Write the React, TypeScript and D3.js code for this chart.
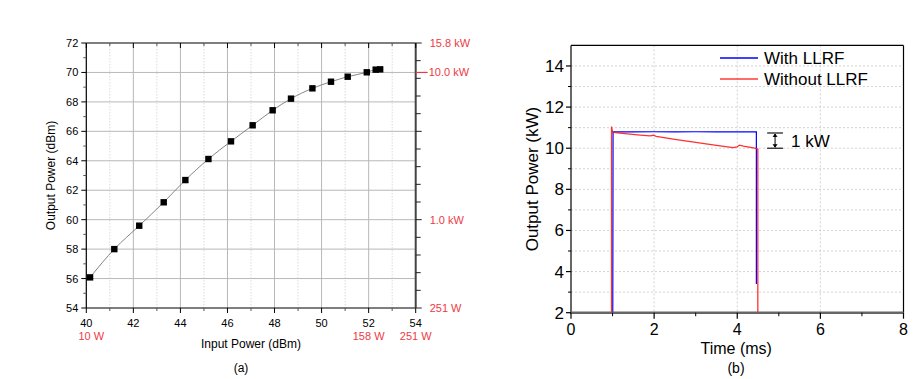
import React from "react";
import * as d3 from "d3";

// ---------- Chart (a) data ----------
const inputDbm = [40.16, 41.19, 42.25, 43.29, 44.21, 45.19, 46.15, 47.07, 47.92, 48.7, 49.61, 50.4, 51.11, 51.92, 52.3, 52.49];
const outputDbm = [56.08, 58.0, 59.59, 61.18, 62.69, 64.12, 65.32, 66.41, 67.43, 68.22, 68.92, 69.37, 69.71, 70.01, 70.19, 70.21];
const aXTicks = [40, 42, 44, 46, 48, 50, 52, 54];
const aYTicks = [54, 56, 58, 60, 62, 64, 66, 68, 70, 72];
const aRightLabelDbm = [72, 70, 60, 54];
const aRightLabelText = ["15.8 kW", "10.0 kW", "1.0 kW", "251 W"];
const aBottomLabelDbm = [40, 52, 54];
const aBottomLabelText = ["10 W", "158 W", "251 W"];

// ---------- Chart (b) data ----------
const withTime = [0.995, 1.005, 1.012, 1.5, 2.0, 2.5, 3.0, 3.5, 4.0, 4.3, 4.46, 4.46];
const withPower = [2.0, 2.0, 10.8, 10.79, 10.8, 10.79, 10.8, 10.79, 10.8, 10.79, 10.8, 3.4];
const withoutTime = [0.975, 0.975, 1.0, 1.06, 1.3, 1.6, 1.9, 1.98, 2.05, 2.5, 3.0, 3.5, 3.9, 4.0, 4.05, 4.15, 4.45, 4.495, 4.495];
const withoutPower = [2.0, 11.05, 10.8, 10.76, 10.71, 10.65, 10.6, 10.63, 10.58, 10.43, 10.28, 10.14, 10.03, 10.06, 10.15, 10.1, 9.99, 9.96, 2.0];
const bXTicks = [0, 2, 4, 6, 8];
const bYTicks = [2, 4, 6, 8, 10, 12, 14];
const legendLabels = ["With LLRF", "Without LLRF"];

const FONT = "'Liberation Sans', Arial, sans-serif";
const RED = "#ee3a44";

function ChartA() {
  const x = d3.scaleLinear().domain([40, 54]).range([86.3, 415.7]);
  const y = d3.scaleLinear().domain([54, 72]).range([308, 43]);
  const pts = inputDbm.map((v, i) => [v, outputDbm[i]] as [number, number]);
  const line = d3.line<[number, number]>().x(d => x(d[0])).y(d => y(d[1])).curve(d3.curveMonotoneX);
  const xMinor = d3.range(41, 54, 2);
  const yMinor = d3.range(55, 72, 2);
  const rightTicks = d3.range(0, 16).map(k => 54 + k * 1.2);
  const [x0, x1] = x.range();
  const [y0, y1] = y.range();
  return (
    <g fontFamily={FONT}>
      {xMinor.map(v => (
        <line key={"xm" + v} x1={x(v)} x2={x(v)} y1={y1} y2={y0} stroke="#d0d0d0" strokeDasharray="1.5,1.5" strokeWidth={0.8} />
      ))}
      {aXTicks.slice(1, -1).map(v => (
        <line key={"xg" + v} x1={x(v)} x2={x(v)} y1={y1} y2={y0} stroke="#b8b8b8" strokeWidth={1} />
      ))}
      {aYTicks.slice(1, -1).map(v => (
        <line key={"yg" + v} x1={x0} x2={x1} y1={y(v)} y2={y(v)} stroke="#b8b8b8" strokeWidth={1} />
      ))}
      <path d={line(pts) || ""} fill="none" stroke="#777" strokeWidth={0.9} />
      {pts.map((p, i) => (
        <rect key={i} x={x(p[0]) - 3.2} y={y(p[1]) - 3.2} width={6.4} height={6.4} fill="#000" />
      ))}
      <line x1={x0} x2={x1} y1={y1} y2={y1} stroke="#000" strokeWidth={1.2} />
      <line x1={x0} x2={x1} y1={y0} y2={y0} stroke="#000" strokeWidth={1.2} />
      <line x1={x0} x2={x0} y1={y1} y2={y0} stroke="#000" strokeWidth={1.2} />
      <line x1={x1} x2={x1} y1={y1} y2={y0} stroke="#444" strokeWidth={2} />
      {aXTicks.map(v => (
        <g key={"bx" + v}>
          <line x1={x(v)} x2={x(v)} y1={y0} y2={y0 + 5} stroke="#000" />
          <line x1={x(v)} x2={x(v)} y1={y1} y2={y1 + 5} stroke="#000" />
          <text x={x(v)} y={y0 + 19} fontSize={11} textAnchor="middle" fill="#000">{v}</text>
        </g>
      ))}
      {xMinor.map(v => (
        <g key={"bxm" + v}>
          <line x1={x(v)} x2={x(v)} y1={y0} y2={y0 + 3} stroke="#555" />
          <line x1={x(v)} x2={x(v)} y1={y1} y2={y1 + 3} stroke="#555" />
        </g>
      ))}
      {aBottomLabelDbm.map((v, i) => (
        <text key={"bl" + i} x={x(v) + (i === 0 ? 5 : 0)} y={y0 + 32} fontSize={11} textAnchor="middle" fill={RED}>{aBottomLabelText[i]}</text>
      ))}
      {aYTicks.map(v => (
        <g key={"ly" + v}>
          <line x1={x0 - 5} x2={x0} y1={y(v)} y2={y(v)} stroke="#000" />
          <text x={x0 - 8} y={y(v) + 4} fontSize={11} textAnchor="end" fill="#000">{v}</text>
        </g>
      ))}
      {yMinor.map(v => (
        <line key={"lym" + v} x1={x0 - 3} x2={x0} y1={y(v)} y2={y(v)} stroke="#555" />
      ))}
      {rightTicks.map((v, i) => (
        <line key={"ry" + i} x1={x1} x2={x1 + (i % 5 === 0 ? 6 : 5)} y1={y(v)} y2={y(v)} stroke="#222" />
      ))}
      <line x1={x1} x2={x1 + 12} y1={y(70)} y2={y(70)} stroke={RED} strokeWidth={1.2} />
      {aRightLabelDbm.map((v, i) => (
        <text key={"rl" + i} x={v === 70 ? x1 + 13 : x1 + 14} y={y(v) + 4} fontSize={11} fill={RED}>{aRightLabelText[i]}</text>
      ))}
      <text x={(x0 + x1) / 2} y={348} fontSize={12} textAnchor="middle" fill="#000">Input Power (dBm)</text>
      <text transform={`translate(55,${(y0 + y1) / 2}) rotate(-90)`} fontSize={12} textAnchor="middle" fill="#000">Output Power (dBm)</text>
      <text x={241} y={372} fontSize={12} textAnchor="middle" fill="#000">(a)</text>
    </g>
  );
}

function ChartB() {
  const x = d3.scaleLinear().domain([0, 8]).range([571, 903.5]);
  const y = d3.scaleLinear().domain([2, 15]).range([312.7, 45.4]);
  const [x0, x1] = x.range();
  const [y0, y1] = y.range();
  const line = d3.line<[number, number]>().x(d => x(d[0])).y(d => y(d[1]));
  const withPts = withTime.map((t, i) => [t, withPower[i]] as [number, number]);
  const withoutPts = withoutTime.map((t, i) => [t, withoutPower[i]] as [number, number]);
  const yGrid = d3.range(3, 15, 1);
  const xMinor = [1, 3, 5, 7];
  const yMinor = d3.range(3, 15, 2);
  const bx0 = x(4.72), bx1 = x(5.1), bxc = (bx0 + bx1) / 2;
  const byTop = y(10.74), byBot = y(10.0);
  return (
    <g fontFamily={FONT}>
      {yGrid.map(v => (
        <line key={"g" + v} x1={x0} x2={x1} y1={y(v)} y2={y(v)} stroke="#c8c8c8" strokeDasharray="2,2" strokeWidth={0.8} />
      ))}
      {bXTicks.slice(1, -1).map(v => (
        <line key={"gx" + v} x1={x(v)} x2={x(v)} y1={y1} y2={y0} stroke="#c8c8c8" strokeDasharray="2,2" strokeWidth={0.8} />
      ))}
      <path d={line(withPts) || ""} fill="none" stroke="#0000ff" strokeWidth={1.2} />
      <path d={line(withoutPts) || ""} fill="none" stroke="#ff1a1a" strokeWidth={1.3} strokeOpacity={0.9} />
      <line x1={x0} x2={x1} y1={y1} y2={y1} stroke="#000" strokeWidth={1.2} />
      <line x1={x1} x2={x1} y1={y1} y2={y0} stroke="#000" strokeWidth={1.2} />
      <line x1={x0} x2={x0} y1={y1} y2={y0} stroke="#000" strokeWidth={1.2} />
      <line x1={x0 - 1} x2={x1} y1={y0} y2={y0} stroke="#666" strokeWidth={2.5} />
      {bXTicks.map(v => (
        <g key={"bx" + v}>
          <line x1={x(v)} x2={x(v)} y1={y0} y2={y0 + 6} stroke="#000" strokeWidth={1.2} />
          <text x={x(v)} y={y0 + 22} fontSize={16} textAnchor="middle" fill="#000">{v}</text>
        </g>
      ))}
      {xMinor.map(v => (
        <line key={"bxm" + v} x1={x(v)} x2={x(v)} y1={y0} y2={y0 + 3.5} stroke="#000" />
      ))}
      {bYTicks.map(v => (
        <g key={"by" + v}>
          <line x1={x0 - 5} x2={x0} y1={y(v)} y2={y(v)} stroke="#000" strokeWidth={1.2} />
          <text x={x0 - 7} y={y(v) + 6} fontSize={17} textAnchor="end" fill="#000">{v}</text>
        </g>
      ))}
      {yMinor.map(v => (
        <line key={"bym" + v} x1={x0 - 3} x2={x0} y1={y(v)} y2={y(v)} stroke="#000" />
      ))}
      <text x={(x0 + x1) / 2 - 1} y={354} fontSize={16} textAnchor="middle" fill="#000">Time (ms)</text>
      <text transform={`translate(538,${(y0 + y1) / 2}) rotate(-90)`} fontSize={17} textAnchor="middle" fill="#000">Output Power (kW)</text>
      <text x={736} y={373} fontSize={14} textAnchor="middle" fill="#000">(b)</text>
      <line x1={720} x2={758} y1={58} y2={58} stroke="#0000ff" strokeWidth={1.3} />
      <text x={764} y={64} fontSize={17} fill="#000">{legendLabels[0]}</text>
      <line x1={720} x2={758} y1={79} y2={79} stroke="#ff3a3a" strokeWidth={1.6} />
      <text x={764} y={85} fontSize={17} fill="#000">{legendLabels[1]}</text>
      <line x1={bx0} x2={bx1} y1={byTop} y2={byTop} stroke="#000" strokeWidth={1.1} />
      <line x1={bx0} x2={bx1} y1={byBot} y2={byBot} stroke="#000" strokeWidth={1.1} />
      <line x1={bxc} x2={bxc} y1={byTop + 1} y2={byBot - 1} stroke="#000" strokeWidth={1} />
      <path d={`M${bxc - 2},${byTop + 4} L${bxc},${byTop + 1} L${bxc + 2},${byTop + 4}`} fill="#000" stroke="#000" strokeWidth={0.8} />
      <path d={`M${bxc - 2},${byBot - 4} L${bxc},${byBot - 1} L${bxc + 2},${byBot - 4}`} fill="#000" stroke="#000" strokeWidth={0.8} />
      <text x={791} y={(byTop + byBot) / 2 + 6} fontSize={17} fill="#000">1 kW</text>
    </g>
  );
}

export default function App() {
  return (
    <svg width={913} height={379} style={{ position: "absolute", left: 0, top: 0, background: "#fff" }}>
      <rect width={913} height={379} fill="#fff" />
      <ChartA />
      <ChartB />
    </svg>
  );
}
